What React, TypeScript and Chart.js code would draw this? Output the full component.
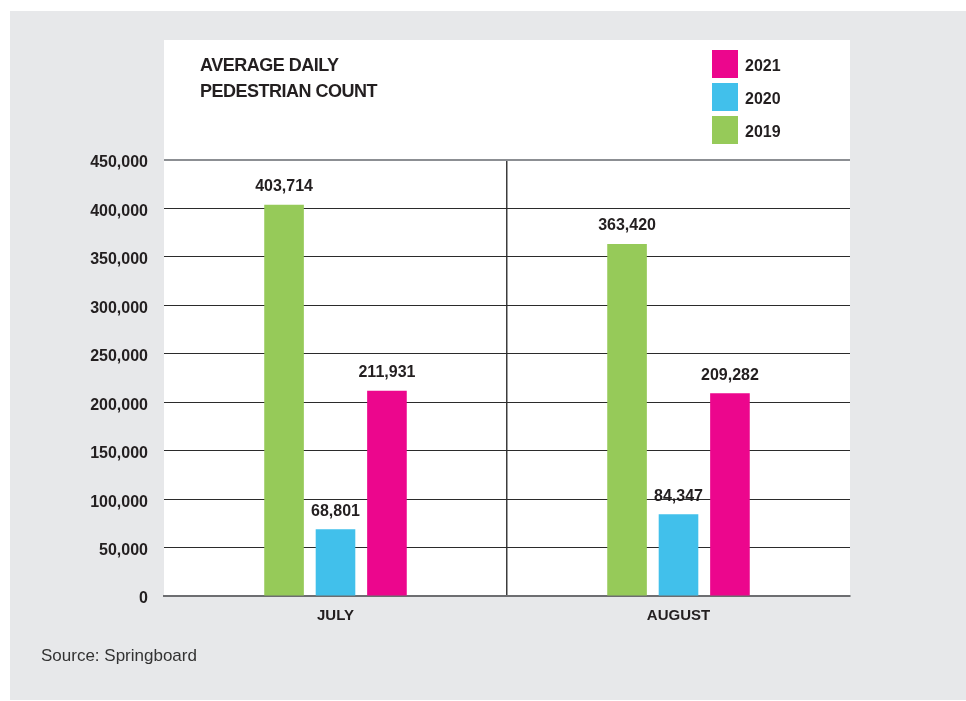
import { useEffect, useRef } from 'react';
import { Chart, registerables } from 'chart.js';

Chart.register(...registerables);

const categories = ['JULY', 'AUGUST'];
const seriesLabels = ['2019', '2020', '2021'];
const values2019 = [403714, 363420];
const values2020 = [68801, 84347];
const values2021 = [211931, 209282];
const seriesColors = ['#96ca59', '#41c0eb', '#ec068d'];
const yMax = 450000;
const yStep = 50000;
const titleLines = ['AVERAGE DAILY', 'PEDESTRIAN COUNT'];
const sourceText = 'Source: Springboard';

const FONT = "'Liberation Sans', Arial, sans-serif";
const TEXT = '#231f20';
const fmt = (v: number) => v.toLocaleString('en-US');

const decorPlugin = {
  id: 'decor',
  beforeDraw(chart: any) {
    const { ctx, chartArea } = chart;
    ctx.save();
    ctx.fillStyle = '#e7e8ea';
    ctx.fillRect(10, 11, 956, 689);
    ctx.fillStyle = '#ffffff';
    ctx.fillRect(chartArea.left, 40, chartArea.right - chartArea.left, chartArea.bottom - 40);

    // title
    ctx.fillStyle = TEXT;
    ctx.font = `bold 18px ${FONT}`;
    (ctx as any).letterSpacing = '-0.5px';
    ctx.textAlign = 'left';
    ctx.textBaseline = 'middle';
    titleLines.forEach((line, i) => ctx.fillText(line, 200, 66 + i * 26));
    (ctx as any).letterSpacing = '0px';

    // legend (reverse order)
    const ds = chart.data.datasets;
    const order = ds.map((_: any, i: number) => i).reverse();
    order.forEach((di: number, k: number) => {
      const top = 50 + k * 33;
      ctx.fillStyle = ds[di].backgroundColor;
      ctx.fillRect(712, top, 26, 28);
      ctx.fillStyle = TEXT;
      ctx.font = `bold 16px ${FONT}`;
      ctx.textAlign = 'left';
      ctx.textBaseline = 'middle';
      ctx.fillText(ds[di].label, 745, top + 16.5);
    });

    // source
    ctx.fillStyle = '#333333';
    ctx.font = `17px ${FONT}`;
    ctx.textAlign = 'left';
    ctx.textBaseline = 'middle';
    ctx.fillText(sourceText, 41, 656);
    ctx.restore();
  },
  afterDatasetsDraw(chart: any) {
    const { ctx } = chart;
    ctx.save();
    ctx.fillStyle = TEXT;
    ctx.font = `bold 16px ${FONT}`;
    ctx.textAlign = 'center';
    ctx.textBaseline = 'middle';
    chart.data.datasets.forEach((d: any, di: number) => {
      const meta = chart.getDatasetMeta(di);
      meta.data.forEach((bar: any, i: number) => {
        ctx.fillText(fmt(d.data[i]), bar.x, bar.y - 18);
      });
    });
    ctx.restore();
  },
};

export default function App() {
  const ref = useRef<HTMLCanvasElement | null>(null);
  useEffect(() => {
    if (!ref.current) return;
    const seriesValues = [values2019, values2020, values2021];
    const chart = new Chart(ref.current, {
      type: 'bar',
      data: {
        labels: categories,
        datasets: seriesLabels.map((label, i) => ({
          label,
          data: seriesValues[i],
          backgroundColor: seriesColors[i],
          borderWidth: 0,
          categoryPercentage: 0.45,
          barPercentage: 0.77,
        })),
      },
      options: {
        responsive: false,
        animation: false,
        devicePixelRatio: 1,
        layout: { padding: { top: 160, left: 0, right: 116, bottom: 0 } },
        plugins: { legend: { display: false }, tooltip: { enabled: false }, title: { display: false } },
        scales: {
          x: {
            offset: true,
            afterFit: (s: any) => { s.height = 105; },
            grid: {
              offset: true,
              drawTicks: false,
              color: (c: any) => (c.index === 1 ? '#3c3c3c' : 'rgba(0,0,0,0)'),
              lineWidth: 1.5,
            },
            border: { display: true, color: '#6d6e71', width: 2 },
            ticks: { color: TEXT, font: { family: FONT, size: 15, weight: 'bold' }, padding: 11 },
          },
          y: {
            min: 0,
            max: yMax,
            afterFit: (s: any) => { s.width = 164; },
            grid: {
              drawTicks: false,
              color: (c: any) =>
                c.tick && c.tick.value === yMax ? '#8c8f93' : c.tick && c.tick.value === 0 ? 'rgba(0,0,0,0)' : '#2b2b2b',
              lineWidth: (c: any) => (c.tick && c.tick.value === yMax ? 2 : 1),
            },
            border: { display: false },
            ticks: {
              stepSize: yStep,
              padding: 16,
              labelOffset: 3,
              color: TEXT,
              font: { family: FONT, size: 16, weight: 'bold' },
              callback: (v: any) => fmt(Number(v)),
            },
          },
        },
      },
      plugins: [decorPlugin],
    } as any);
    return () => chart.destroy();
  }, []);
  return (
    <div style={{ position: 'absolute', left: 0, top: 0, width: 966, height: 701 }}>
      <canvas ref={ref} width={966} height={701} style={{ display: 'block' }} />
    </div>
  );
}
